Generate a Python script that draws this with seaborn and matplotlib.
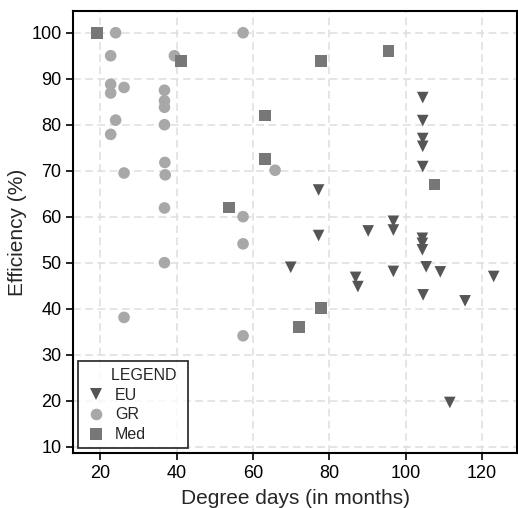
import pandas as pd
import matplotlib
matplotlib.use("Agg")
import matplotlib.pyplot as plt
import seaborn as sns

# EU points
eu_x = [104.5, 104.5, 104.5, 104.5, 104.5, 77.2, 77.2, 90.2, 96.8, 96.8,
        104.4, 104.4, 104.4, 69.9, 86.9, 87.5, 96.8, 105.4, 109.1, 123.1,
        104.6, 115.6, 111.6]
eu_y = [85.9, 80.9, 77.0, 75.3, 70.9, 65.8, 55.9, 56.9, 59.0, 57.1,
        55.3, 54.2, 52.8, 49.0, 46.8, 44.8, 48.1, 49.1, 48.0, 47.0,
        43.0, 41.7, 19.6]

# GR points
gr_x = [24.0, 57.4, 22.7, 39.4, 22.7, 22.7, 26.2, 36.8, 36.8, 36.8,
        24.0, 36.8, 22.7, 65.8, 36.9, 37.0, 26.2, 36.8, 57.4, 57.4,
        36.8, 26.2, 57.4]
gr_y = [100.0, 100.0, 95.0, 95.0, 88.8, 86.9, 88.1, 87.5, 85.2, 83.8,
        81.0, 80.0, 77.9, 70.1, 71.8, 69.1, 69.5, 61.9, 60.0, 54.1,
        50.0, 38.1, 34.1]

# Med points
med_x = [19.1, 41.2, 63.1, 63.1, 53.7, 77.8, 95.5, 107.6, 72.1, 77.8]
med_y = [100.0, 93.8, 82.0, 72.6, 62.0, 93.8, 96.0, 67.0, 36.0, 40.1]

groups = ["EU", "GR", "Med"]

df = pd.DataFrame({
    "x": eu_x + gr_x + med_x,
    "y": eu_y + gr_y + med_y,
    "group": ["EU"] * len(eu_x) + ["GR"] * len(gr_x) + ["Med"] * len(med_x),
})

sns.set_style("white")
plt.rcParams["font.family"] = ["Liberation Sans", "DejaVu Sans"]

fig = plt.figure(figsize=(5.18, 5.08), dpi=100)
ax = fig.add_axes([0.1415, 0.1077, 0.8565, 0.8713])

palette = {"EU": "#555555", "GR": "#a8a8a8", "Med": "#777777"}
markers = {"EU": "v", "GR": "o", "Med": "s"}

sns.scatterplot(data=df, x="x", y="y", hue="group", style="group",
                hue_order=groups, style_order=groups,
                palette=palette, markers=markers, s=70, linewidth=0,
                ax=ax, zorder=3)

ax.set_xlim(12.9, 129.2)
ax.set_ylim(8.55, 104.8)
ax.set_xticks([20, 40, 60, 80, 100, 120])
ax.set_yticks([10, 20, 30, 40, 50, 60, 70, 80, 90, 100])
ax.grid(True, color="#dedede", linestyle=(0, (5, 3)), linewidth=1.1)
ax.set_axisbelow(True)
for sp in ax.spines.values():
    sp.set_visible(True)
    sp.set_color("black")
    sp.set_linewidth(1.5)
ax.tick_params(axis="both", direction="out", length=5, width=1.2,
               labelsize=13, colors="black", left=True, bottom=True)
ax.set_xlabel("Degree days (in months)", fontsize=15, labelpad=5)
ax.set_ylabel("Efficiency (%)", fontsize=15, labelpad=3)

leg = ax.legend(title="      LEGEND ", loc="lower left", fontsize=11.5,
                title_fontsize=11.5, frameon=True, fancybox=False,
                borderaxespad=0.3, handletextpad=0.5, labelspacing=0.3,
                borderpad=0.4, handlelength=1.4, markerscale=1.0)
leg.get_frame().set_edgecolor("black")
leg.get_frame().set_linewidth(1.3)
leg._legend_box.align = "left"

fig.savefig("out.png", dpi=100)
